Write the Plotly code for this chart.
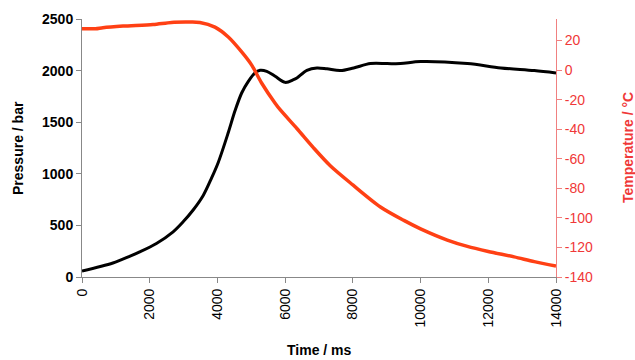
import plotly.graph_objects as go

# Pressure (left axis)
p_time = [0, 913, 1407, 1704, 2198, 2691, 2987, 3283, 3580, 3828, 4024, 4321, 4519,
          4716, 4913, 5111, 5259, 5457, 5704, 6000, 6247, 6347, 6643, 6939, 7236,
          7630, 8024, 8519, 9013, 9407, 10000, 11383, 12370, 13358, 14000]
pressure = [58, 136, 201, 243, 325, 438, 535, 649, 790, 960, 1110, 1400, 1610,
            1783, 1896, 1978, 2003, 1993, 1945, 1886, 1912, 1929, 2003, 2026, 2017,
            2000, 2026, 2068, 2068, 2068, 2088, 2068, 2026, 2000, 1977]

# Temperature (right axis)
t_time = [0, 400, 617, 1210, 2098, 2642, 3100, 3481, 3926, 4321, 4716, 5012, 5309,
          5704, 5852, 6346, 6839, 7333, 8000, 8815, 9506, 10000, 10790, 11383,
          12000, 12765, 13358, 14000]
temperature = [28, 28, 28.7, 29.8, 30.9, 32.3, 32.5, 32.3, 29.1, 22.4, 12.3, 3.4, -8.9,
               -22.4, -26.8, -39.5, -52.6, -64.7, -77.7, -92.6, -101.7, -107.4, -115,
               -119.3, -122.7, -126.4, -129.6, -132.6]

x_ticks = [0, 2000, 4000, 6000, 8000, 10000, 12000, 14000]
p_ticks = [0, 500, 1000, 1500, 2000, 2500]
t_ticks = [20, 0, -20, -40, -60, -80, -100, -120, -140]

FONT = "Liberation Sans, Arial, sans-serif"
RED = "#ff4014"
AX_RED = "#f03838"

fig = go.Figure()
fig.add_trace(go.Scatter(x=p_time, y=pressure, mode="lines",
                         line=dict(color="black", width=3, shape="spline", smoothing=0.9),
                         yaxis="y", showlegend=False))
fig.add_trace(go.Scatter(x=t_time, y=temperature, mode="lines",
                         line=dict(color=RED, width=3.5, shape="spline", smoothing=0.8),
                         yaxis="y2", showlegend=False))

fig.update_layout(
    width=635, height=360,
    margin=dict(l=82, r=79, t=19, b=83),
    paper_bgcolor="white", plot_bgcolor="white",
    font=dict(family=FONT, size=14, color="black"),
    xaxis=dict(range=[0, 14000], tickvals=x_ticks, ticktext=[str(v) for v in x_ticks],
               tickangle=-90, ticks="outside", ticklen=5, tickcolor="#888",
               showline=True, linecolor="#888", linewidth=1, showgrid=False, zeroline=False,
               tickfont=dict(family=FONT, size=14, color="black")),
    yaxis=dict(range=[0, 2500], tickvals=p_ticks, ticktext=[str(v) for v in p_ticks],
               ticks="outside", ticklen=5, tickcolor="#888",
               showline=True, linecolor="#888", linewidth=1, showgrid=False, zeroline=False,
               tickfont=dict(family=FONT, size=14, color="black", weight="bold")),
    yaxis2=dict(range=[-140, 34.6], overlaying="y", side="right", anchor="x",
                tickvals=t_ticks, ticktext=[str(v) for v in t_ticks],
                ticks="outside", ticklen=5, tickcolor="#f08080",
                showline=True, linecolor="#f08080", linewidth=1, showgrid=False, zeroline=False,
                tickfont=dict(family=FONT, size=14, color=AX_RED)),
    annotations=[
        dict(text="<b>Pressure / bar</b>", x=18, y=148, showarrow=False, textangle=-90,
             font=dict(family=FONT, size=14, color="black")),
        dict(text="<b>Time / ms</b>", x=319, y=350, showarrow=False,
             font=dict(family=FONT, size=14, color="black")),
        dict(text="<b>Temperature / °C</b>", x=628, y=148, showarrow=False, textangle=-90,
             font=dict(family=FONT, size=14, color=AX_RED)),
    ],
)

# convert pixel positions of annotations to paper coords
pw, ph = 635 - 82 - 79, 360 - 19 - 83
for a in fig.layout.annotations:
    px, py = a.x, a.y
    a.xref = "paper"; a.yref = "paper"
    a.x = (px - 82) / pw
    a.y = (360 - 83 - py) / ph
    a.xanchor = "center"; a.yanchor = "middle"

fig.write_html("out.html")
